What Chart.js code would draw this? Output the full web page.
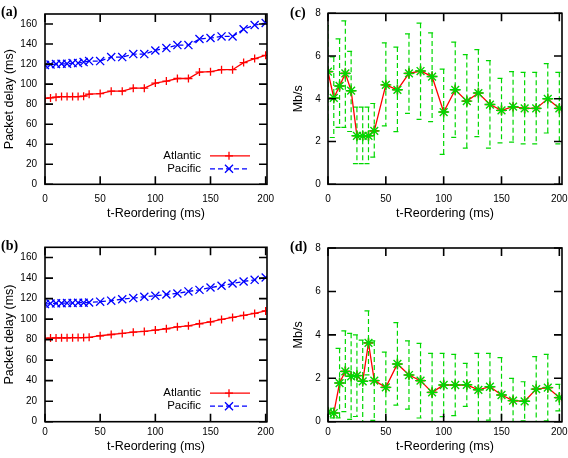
<!DOCTYPE html>
<html lang="en">

<head>
    <meta charset="UTF-8">
    <title>Packet delay and throughput vs t-Reordering</title>
    <style>
        html, body { margin: 0; padding: 0; background: #fff; overflow: hidden; }
        #fig { position: relative; width: 568px; height: 458px; overflow: hidden; }
        canvas { position: absolute; }
        .tag { position: absolute; font: bold 14px 'Liberation Serif', 'Times New Roman', serif; line-height: 14px; color: #000; }
    </style>
</head>

<body>
    <div id="fig">
        <canvas id="chartA" width="284" height="229" style="left:0;top:0"></canvas>
        <canvas id="chartC" width="300" height="229" style="left:284px;top:0"></canvas>
        <canvas id="chartB" width="284" height="229" style="left:0;top:229px"></canvas>
        <canvas id="chartD" width="300" height="229" style="left:284px;top:229px"></canvas>
        <div class="tag" style="left:1px;top:5px">(a)</div>
        <div class="tag" style="left:290px;top:6px">(c)</div>
        <div class="tag" style="left:1px;top:239px">(b)</div>
        <div class="tag" style="left:290px;top:240px">(d)</div>
    </div>
<script src="https://cdn.jsdelivr.net/npm/chart.js"></script>
<script>
    // t-Reordering values (ms), shared by all four panels
    const tReorder = [0, 5, 10, 15, 20, 25, 30, 35, 40, 50, 60, 70, 80, 90, 100, 110, 120, 130, 140, 150, 160, 170, 180, 190, 200];

    // (a) packet delay (ms)
    const delayAtlanticA = [85.7, 86.2, 87, 87.6, 87.6, 87.6, 87.6, 88, 90, 90.6, 93, 93, 96, 96, 101, 103, 105.6, 105.6, 112, 112.4, 114.4, 114.4, 121.5, 125.5, 128.7];
    const delayPacificA = [119, 119.6, 120, 120.3, 120.3, 121, 121, 122, 123, 123, 127, 127, 130, 130, 133.6, 136, 139, 139, 145, 146, 147.6, 147.6, 154.8, 159, 161];

    // (b) packet delay (ms)
    const delayAtlanticB = [81.2, 81.5, 81.7, 81.8, 81.8, 81.9, 82, 82, 82.2, 83.8, 85, 86, 87.3, 88, 89.3, 90.6, 92.5, 93.5, 95.5, 97.4, 99.7, 101.6, 103.6, 105.5, 108];
    const delayPacificB = [114.6, 115.2, 115.4, 115.5, 115.6, 115.8, 116, 116, 116.2, 117, 118, 119.4, 120.5, 121.8, 122.7, 124, 125, 127, 128.5, 130.8, 132.5, 134.7, 136.7, 138.3, 140.6];

    // (c) throughput (Mb/s) with error bar ends
    const rateC = [5.27, 4.04, 4.6, 5.19, 4.38, 2.27, 2.27, 2.27, 2.5, 4.65, 4.42, 5.19, 5.3, 5.04, 3.38, 4.42, 3.89, 4.27, 3.73, 3.46, 3.63, 3.55, 3.55, 4.0, 3.55];
    const rateHighC = [7.42, 5.96, 6.8, 7.65, 6.22, 3.61, 3.61, 3.61, 3.78, 6.62, 6.42, 7.04, 7.54, 7.08, 5.39, 6.65, 6.07, 6.3, 5.79, 4.96, 5.27, 5.24, 5.24, 5.65, 5.24];
    const rateLowC = [3.04, 2.19, 2.66, 2.66, 2.47, 0.97, 0.97, 0.97, 1.27, 2.73, 2.46, 3.32, 3.04, 2.93, 1.4, 2.2, 1.69, 2.23, 1.69, 1.94, 1.97, 1.89, 1.89, 2.4, 1.89];

    // (d) throughput (Mb/s) with error bar ends
    const rateD = [0.43, 0.4, 1.78, 2.32, 2.09, 2.12, 1.86, 3.63, 1.89, 1.58, 2.66, 2.15, 1.89, 1.35, 1.69, 1.69, 1.7, 1.47, 1.61, 1.23, 0.97, 0.94, 1.5, 1.57, 1.11];
    const rateHighD = [0.62, 0.62, 3.38, 4.18, 4.07, 4.0, 3.76, 5.1, 3.72, 3.2, 4.56, 3.72, 3.61, 3.15, 3.15, 3.1, 2.69, 3.15, 3.15, 2.95, 2.0, 1.84, 3.0, 3.1, 1.72];
    const rateLowD = [0.24, 0.18, 0.18, 0.46, 0.11, 0.24, 0, 2.16, 0.06, 0, 0.76, 0.58, 0.17, 0, 0.23, 0.28, 0.71, 0, 0.07, 0, 0, 0.04, 0, 0.04, 0.5];

    const xTicks = [0, 50, 100, 150, 200];
    const delayTicks = [0, 20, 40, 60, 80, 100, 120, 140, 160];
    const rateTicks = [0, 2, 4, 6, 8];

    const RED = '#ff0000';
    const BLUE = '#0000ff';
    const GREEN = '#00d800';

    Chart.defaults.font.family = "'Liberation Sans', Arial, sans-serif";
    Chart.defaults.color = '#000';

    function points(ys) {
        return tReorder.map((x, i) => ({ x: x, y: ys[i] }));
    }

    // box + inward tick marks on all four sides, like gnuplot
    const frameTicks = {
        id: 'frameTicks',
        afterDraw(chart, args, opts) {
            const { ctx, chartArea: a } = chart;
            const xs = chart.scales.x, ys = chart.scales.y;
            const len = 8;
            ctx.save();
            ctx.strokeStyle = '#000';
            ctx.lineWidth = 1.6;
            ctx.setLineDash([]);
            ctx.strokeRect(a.left, a.top, a.right - a.left, a.bottom - a.top);
            (opts.xValues || []).forEach(v => {
                const px = xs.getPixelForValue(v);
                ctx.beginPath();
                ctx.moveTo(px, a.bottom); ctx.lineTo(px, a.bottom - len);
                ctx.moveTo(px, a.top); ctx.lineTo(px, a.top + len);
                ctx.stroke();
            });
            (opts.yValues || []).forEach(v => {
                const py = ys.getPixelForValue(v);
                ctx.beginPath();
                ctx.moveTo(a.left, py); ctx.lineTo(a.left + len, py);
                ctx.moveTo(a.right, py); ctx.lineTo(a.right - len, py);
                ctx.stroke();
            });
            ctx.restore();
        }
    };

    // dashed vertical error bars with caps
    const errorBars = {
        id: 'errorBars',
        beforeDatasetsDraw(chart, args, opts) {
            if (!opts.high) return;
            const { ctx, chartArea: a, scales: { x, y } } = chart;
            ctx.save();
            ctx.beginPath();
            ctx.rect(a.left, a.top, a.right - a.left, a.bottom - a.top);
            ctx.clip();
            ctx.strokeStyle = GREEN;
            ctx.lineWidth = 1.2;
            ctx.setLineDash([5, 3]);
            tReorder.forEach((xv, i) => {
                const px = x.getPixelForValue(xv);
                const top = y.getPixelForValue(opts.high[i]);
                const bot = y.getPixelForValue(opts.low[i]);
                ctx.beginPath();
                ctx.moveTo(px, top); ctx.lineTo(px, bot);
                ctx.moveTo(px - 4, top); ctx.lineTo(px + 4, top);
                ctx.moveTo(px - 4, bot); ctx.lineTo(px + 4, bot);
                ctx.stroke();
            });
            ctx.restore();
        }
    };

    // gnuplot style key: text, then a line sample with its marker
    const keyBox = {
        id: 'keyBox',
        afterDatasetsDraw(chart) {
            const { ctx, chartArea: a } = chart;
            ctx.save();
            chart.data.datasets.forEach((ds, i) => {
                const yRow = a.bottom - 28.5 + i * 13;
                ctx.font = "11.5px 'Liberation Sans', Arial, sans-serif";
                ctx.fillStyle = '#000';
                ctx.textAlign = 'right';
                ctx.textBaseline = 'middle';
                ctx.fillText(ds.label, a.left + 156, yRow);
                ctx.strokeStyle = ds.borderColor;
                ctx.lineWidth = ds.borderWidth;
                ctx.setLineDash(ds.borderDash || []);
                ctx.beginPath();
                ctx.moveTo(a.left + 165, yRow); ctx.lineTo(a.left + 205, yRow);
                ctx.stroke();
                ctx.setLineDash([]);
                const cx = a.left + 184, r = ds.pointRadius;
                ctx.beginPath();
                if (ds.pointStyle === 'cross') {
                    ctx.moveTo(cx - r, yRow); ctx.lineTo(cx + r, yRow);
                    ctx.moveTo(cx, yRow - r); ctx.lineTo(cx, yRow + r);
                } else {
                    const d = r * Math.SQRT1_2;
                    ctx.moveTo(cx - d, yRow - d); ctx.lineTo(cx + d, yRow + d);
                    ctx.moveTo(cx - d, yRow + d); ctx.lineTo(cx + d, yRow - d);
                }
                ctx.stroke();
            });
            ctx.restore();
        }
    };

    function axes(p) {
        return {
            x: {
                type: 'linear', min: 0, max: p.xMax,
                afterBuildTicks: s => { s.ticks = xTicks.map(v => ({ value: v })); },
                afterFit: s => { s.height = p.xH; },
                ticks: { padding: p.xPad, font: { size: 10 }, maxRotation: 0 },
                grid: { display: false, drawTicks: false },
                border: { display: false },
                title: { display: true, text: 't-Reordering (ms)', font: { size: 12.5 }, padding: { top: 0, bottom: p.titlePad } }
            },
            y: {
                min: 0, max: p.yMax,
                afterBuildTicks: s => { s.ticks = p.yTicks.map(v => ({ value: v })); },
                afterFit: s => { s.width = p.yW; },
                ticks: { padding: p.yPad, font: { size: 10 } },
                grid: { display: false, drawTicks: false },
                border: { display: false },
                title: { display: true, text: p.yTitle, font: { size: 12.5 }, padding: { top: p.yTitlePad, bottom: 0 } }
            }
        };
    }

    function delayChart(id, atl, pac, p) {
        new Chart(document.getElementById(id), {
            type: 'line',
            data: {
                datasets: [{
                    label: 'Atlantic',
                    data: points(atl),
                    borderColor: RED, backgroundColor: RED,
                    borderWidth: 1.3,
                    pointStyle: 'cross', pointRadius: 4, pointBorderWidth: 1.3
                }, {
                    label: 'Pacific',
                    data: points(pac),
                    borderColor: BLUE, backgroundColor: BLUE,
                    borderWidth: 1.3, borderDash: [5, 3],
                    pointStyle: 'crossRot', pointRadius: 5.7, pointBorderWidth: 1.3
                }]
            },
            options: {
                responsive: false, animation: false, devicePixelRatio: 1,
                layout: { padding: { left: 0, top: p.top, right: p.right, bottom: 0 } },
                scales: axes(Object.assign({ xMax: 201.2, yMax: 170, yTicks: delayTicks, yW: 45, yPad: 8, yTitle: 'Packet delay (ms)', yTitlePad: 2.5 }, p)),
                plugins: {
                    legend: { display: false }, tooltip: { enabled: false },
                    frameTicks: { xValues: xTicks, yValues: delayTicks }
                }
            },
            plugins: [frameTicks, keyBox]
        });
    }

    function rateChart(id, mean, high, low, p) {
        new Chart(document.getElementById(id), {
            type: 'line',
            data: {
                datasets: [{
                    label: 'std',
                    data: points(mean),
                    showLine: false,
                    borderColor: GREEN, backgroundColor: GREEN,
                    pointStyle: 'star', pointRadius: 5.5, pointBorderWidth: 1.4
                }, {
                    label: 'mean',
                    data: points(mean),
                    borderColor: RED, backgroundColor: RED,
                    borderWidth: 1.3,
                    pointStyle: 'cross', pointRadius: 4.5, pointBorderWidth: 1.6
                }]
            },
            options: {
                responsive: false, animation: false, devicePixelRatio: 1,
                layout: { padding: { left: 0, top: p.top, right: 22, bottom: 0 } },
                scales: axes(Object.assign({ xMax: 202.3, yMax: 8, yTicks: rateTicks, yW: 44, yPad: 7.3, yTitle: 'Mb/s', yTitlePad: 7.5 }, p)),
                plugins: {
                    legend: { display: false }, tooltip: { enabled: false },
                    errorBars: { high: high, low: low },
                    frameTicks: { xValues: xTicks, yValues: rateTicks }
                }
            },
            plugins: [errorBars, frameTicks]
        });
    }

    delayChart('chartA', delayAtlanticA, delayPacificA, { top: 10, right: 17, xH: 44.7, xPad: 9, titlePad: 7.8 });
    delayChart('chartB', delayAtlanticB, delayPacificB, { top: 18.3, right: 17, xH: 36.3, xPad: 4.5, titlePad: 3.5 });
    rateChart('chartC', rateC, rateHighC, rateLowC, { top: 10.7, xH: 44.7, xPad: 9, titlePad: 7.8 });
    rateChart('chartD', rateD, rateHighD, rateLowD, { top: 19, xH: 36.3, xPad: 4.5, titlePad: 3.5 });
</script>
</body>

</html>
